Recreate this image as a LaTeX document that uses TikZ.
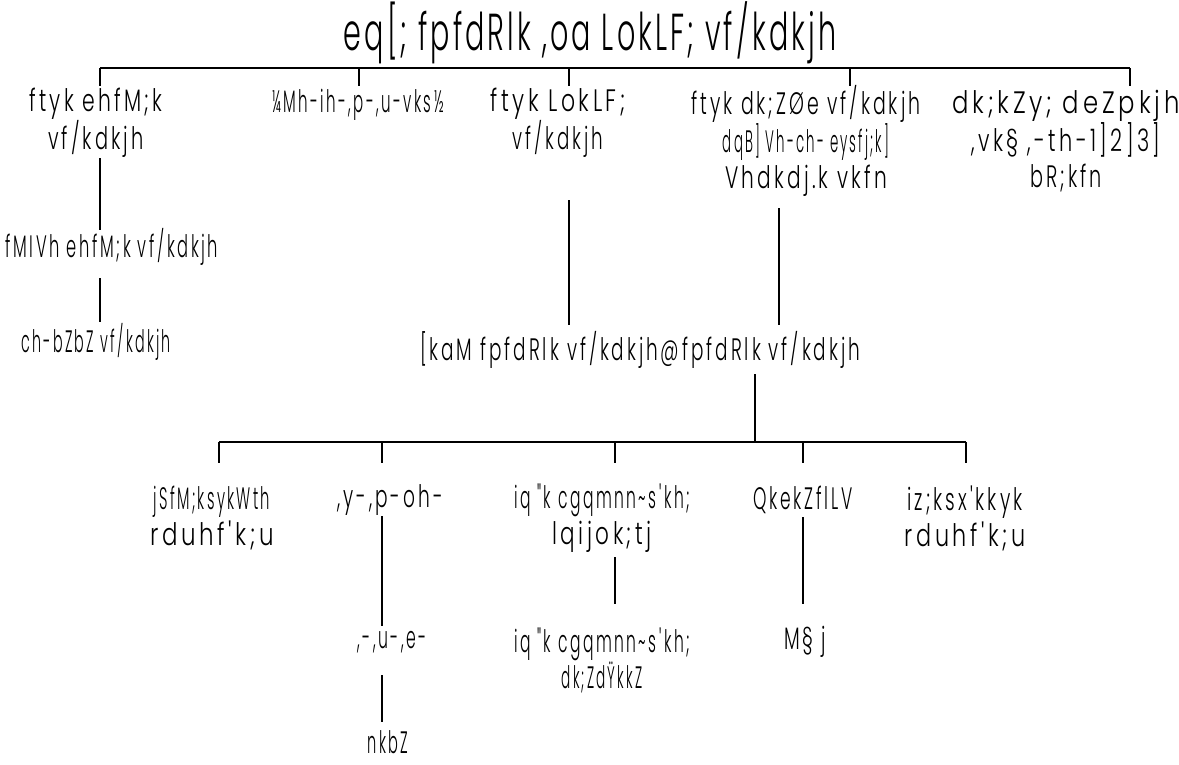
\documentclass[tikz,border=0pt]{standalone}
\usepackage{graphicx}
\usepackage{fontspec}
\setmainfont{Poppins}
\newfontfamily\titlef[FakeStretch=0.55,LetterSpace=6]{Poppins Light}
\newfontfamily\bodyf[FakeStretch=0.5,LetterSpace=8]{Poppins Light}
\newcommand{\sx}[2]{\scalebox{#1}[1]{#2}}
\begin{document}
\begin{tikzpicture}[x=1pt,y=-1pt,
  conn/.style={line width=1.6pt},
  lbl/.style={font=\bodyf\fontsize{31}{36}\selectfont, align=center, inner sep=0pt},
  ttl/.style={font=\titlef\fontsize{52}{52}\selectfont, inner sep=0pt}]
\useasboundingbox (0,0) rectangle (1179,764);
\node[ttl] (title) at (590,33) {eq[; fpfdRlk ,oa LokLF; vf/kdkjh};
% top bar
\coordinate (tl) at (100,68); \coordinate (tr) at (1130,68);
\draw[conn] (tl) -- (tr);
\foreach \x/\n in {100/a,359/b,569/c,850/d,1130/e}{
  \coordinate (t\n) at (\x,68); \coordinate (b\n) at (\x,86);
  \draw[conn] (t\n) -- (b\n);}
\node[lbl] (A) at (96,123) {\sx{1.31}{ftyk ehfM;k}\\\sx{1.25}{vf/kdkjh}};
\node[lbl] (B) at (358,105) {\sx{0.97}{¼Mh-ih-,p-,u-vks½}};
\node[lbl] (C) at (558,123) {\sx{1.42}{ftyk LokLF;}\\\sx{1.18}{vf/kdkjh}};
\node[lbl] (D) at (806,141) {\sx{1.22}{ftyk dk;ZØe vf/kdkjh}\\\sx{0.86}{dqB] Vh-ch- eysfj;k]}\\\sx{1.3}{Vhdkdj.k vkfn}};
\node[lbl] (E) at (1066,141) {\sx{1.57}{dk;kZy; deZpkjh}\\\sx{1.35}{,vk§ ,-th-1]2]3]}\\\sx{1.24}{bR;kfn}};
% left chain
\node[lbl] (A2) at (112,247) {\sx{1.05}{fMIVh ehfM;k vf/kdkjh}};
\node[lbl] (A3) at (96,342) {\sx{0.92}{ch-bZbZ vf/kdkjh}};
\coordinate (a1) at (100,158); \coordinate (a2) at (100,230);
\coordinate (a3) at (100,278); \coordinate (a4) at (100,322);
\draw[conn] (a1) -- (a2); \draw[conn] (a3) -- (a4);
% middle
\node[lbl] (M) at (640,350) {\sx{1.19}{[kaM fpfdRlk vf/kdkjh@fpfdRlk vf/kdkjh}};
\coordinate (c1) at (569,200); \coordinate (c2) at (569,325);
\coordinate (d1) at (779,208); \coordinate (d2) at (779,325);
\draw[conn] (c1) -- (c2); \draw[conn] (d1) -- (d2);
\coordinate (m1) at (755,374); \coordinate (m2) at (755,442);
\draw[conn] (m1) -- (m2);
\coordinate (hl) at (219,442); \coordinate (hr) at (966,442);
\draw[conn] (hl) -- (hr);
\foreach \x/\n in {219/p,382/q,615/r,803/s,966/u}{
  \coordinate (h\n) at (\x,442); \coordinate (g\n) at (\x,463);
  \draw[conn] (h\n) -- (g\n);}
% bottom row
\node[lbl] (P) at (212,518) {\sx{0.95}{jSfM;ksykWth}\\\sx{1.48}{rduhf'k;u}};
\node[lbl] (Q) at (390,500) {\sx{1.2}{,y-,p-oh-}};
\node[lbl] (R) at (602,518) {\sx{1.0}{iq "k cgqmnn\string~s'kh;}\\\sx{1.39}{lqijok;tj}};
\node[lbl] (S) at (803,500) {\sx{1.1}{QkekZflLV}};
\node[lbl] (U) at (965,518) {\sx{1.22}{iz;ksx'kkyk}\\\sx{1.44}{rduhf'k;u}};
\coordinate (q1) at (382,516); \coordinate (q2) at (382,626);
\draw[conn] (q1) -- (q2);
\coordinate (r1) at (615,557); \coordinate (r2) at (615,604);
\draw[conn] (r1) -- (r2);
\coordinate (s1) at (803,517); \coordinate (s2) at (803,604);
\draw[conn] (s1) -- (s2);
\node[lbl] (Q2) at (392,642) {\sx{1.01}{,-,u-,e-}};
\node[lbl] (R2) at (602,660) {\sx{1.0}{iq "k cgqmnn\string~s'kh;}\\\sx{0.88}{dk;ZdŸkkZ}};
\node[lbl] (S2) at (805,642) {\sx{1.2}{M§ j}};
\coordinate (q3) at (382,675); \coordinate (q4) at (382,722);
\draw[conn] (q3) -- (q4);
\node[lbl] (Q3) at (388,742) {\sx{0.94}{nkbZ}};
\end{tikzpicture}
\end{document}
